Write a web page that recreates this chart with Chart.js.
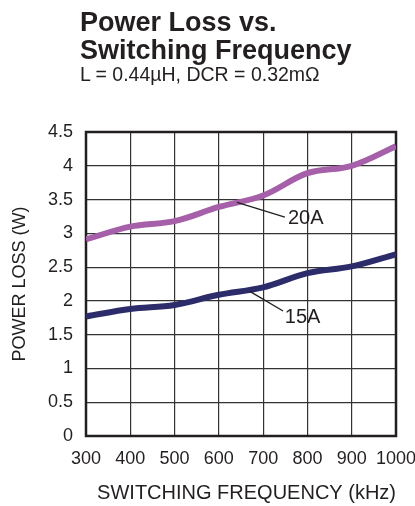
<!DOCTYPE html>
<html>
<head>
<meta charset="utf-8">
<script src="https://cdn.jsdelivr.net/npm/chart.js@4.4.1/dist/chart.umd.min.js"></script>
<style>
  html, body { margin: 0; padding: 0; background: #fff; }
  #wrap { position: relative; width: 415px; height: 506px; font-family: "Liberation Sans", Arial, sans-serif; color: #231f20; }
  #title { position: absolute; left: 80px; top: 8px; font-weight: bold; font-size: 27px; line-height: 28px; }
  #subtitle { position: absolute; left: 80px; top: 63px; font-size: 19.5px; line-height: 22px; }
  canvas { position: absolute; left: 0; top: 0; }
</style>
</head>
<body>
<div id="wrap">
  <canvas id="chart" width="415" height="506"></canvas>
  <div id="title">Power Loss vs.<br>Switching Frequency</div>
  <div id="subtitle">L = 0.44µH, DCR = 0.32mΩ</div>
</div>
<script>
  // values
  const freqKHz = [300, 400, 500, 600, 700, 800, 900, 1000];
  const loss20A = [2.91, 3.1, 3.18, 3.39, 3.56, 3.89, 4.0, 4.29];
  const loss15A = [1.77, 1.88, 1.94, 2.09, 2.2, 2.41, 2.51, 2.69];
  const seriesNames = ["20A", "15A"];
  const xTickLabels = ["300", "400", "500", "600", "700", "800", "900", "1000"];
  const yTickLabels = ["0", "0.5", "1", "1.5", "2", "2.5", "3", "3.5", "4", "4.5"];

  const INK = "#231f20";
  const FONT = '"Liberation Sans", Arial, sans-serif';

  // leader-line callouts, in data units
  const callouts = [
    { text: seriesNames[0], from: [641, 3.46], to: [749, 3.24], at: [756, 3.22] },
    { text: seriesNames[1], from: [670, 2.14], to: [745, 1.85], at: [749, 1.75] },
  ];

  const framePlugin = {
    id: "frame",
    beforeDatasetsDraw(chart) {
      const a = chart.chartArea;
      const ctx = chart.ctx;
      ctx.save();
      ctx.strokeStyle = INK;
      ctx.lineWidth = 2.5;
      ctx.strokeRect(a.left, a.top, a.right - a.left, a.bottom - a.top);
      ctx.restore();
    },
    afterDatasetsDraw(chart) {
      const x = chart.scales.x;
      const y = chart.scales.y;
      const ctx = chart.ctx;
      ctx.save();
      ctx.strokeStyle = INK;
      ctx.fillStyle = INK;
      ctx.lineWidth = 1.3;
      ctx.font = "20px " + FONT;
      ctx.textBaseline = "middle";
      ctx.textAlign = "left";
      callouts.forEach(function (c) {
        ctx.beginPath();
        ctx.moveTo(x.getPixelForValue(c.from[0]), y.getPixelForValue(c.from[1]));
        ctx.lineTo(x.getPixelForValue(c.to[0]), y.getPixelForValue(c.to[1]));
        ctx.stroke();
        ctx.fillText(c.text, x.getPixelForValue(c.at[0]), y.getPixelForValue(c.at[1]));
      });
      ctx.restore();
    },
  };

  function points(ys) {
    return freqKHz.map(function (f, i) {
      return { x: f, y: ys[i] };
    });
  }

  new Chart(document.getElementById("chart"), {
    type: "line",
    data: {
      datasets: [
        {
          label: seriesNames[0],
          data: points(loss20A),
          borderColor: "#a65fa9",
          borderWidth: 6,
          pointRadius: 0,
          tension: 0.35,
        },
        {
          label: seriesNames[1],
          data: points(loss15A),
          borderColor: "#2d2c6b",
          borderWidth: 6,
          pointRadius: 0,
          tension: 0.35,
        },
      ],
    },
    options: {
      responsive: false,
      animation: false,
      layout: { padding: { top: 132, right: 19, left: 0, bottom: 0 } },
      plugins: { legend: { display: false }, tooltip: { enabled: false } },
      scales: {
        x: {
          type: "linear",
          min: 300,
          max: 1000,
          afterFit: function (s) {
            s.height = 70;
            s.paddingLeft = 0;
            s.paddingRight = 0;
          },
          afterBuildTicks: function (s) {
            s.ticks = freqKHz.map(function (v) { return { value: v }; });
          },
          ticks: {
            color: INK,
            font: { size: 18, family: FONT },
            padding: 12,
            maxRotation: 0,
            autoSkip: false,
            callback: function (v, i) { return xTickLabels[i]; },
          },
          grid: { color: "#333", lineWidth: 1.2, drawTicks: false },
          border: { display: false },
          title: {
            display: true,
            align: "end",
            text: "SWITCHING FREQUENCY (kHz)",
            color: INK,
            font: { size: 20, family: FONT },
            padding: { top: 0, bottom: 1 },
          },
        },
        y: {
          min: 0,
          max: 4.5,
          afterFit: function (s) {
            s.width = 86;
            s.paddingTop = 0;
            s.paddingBottom = 0;
          },
          ticks: {
            stepSize: 0.5,
            color: INK,
            font: { size: 18, family: FONT },
            padding: 13,
            callback: function (v, i) { return yTickLabels[i]; },
          },
          grid: { color: "#333", lineWidth: 1.2, drawTicks: false },
          border: { display: false },
          title: {
            display: true,
            text: "POWER LOSS (W)",
            color: INK,
            font: { size: 18, family: FONT },
            padding: { top: 9, bottom: 0 },
          },
        },
      },
    },
    plugins: [framePlugin],
  });
</script>
</body>
</html>
